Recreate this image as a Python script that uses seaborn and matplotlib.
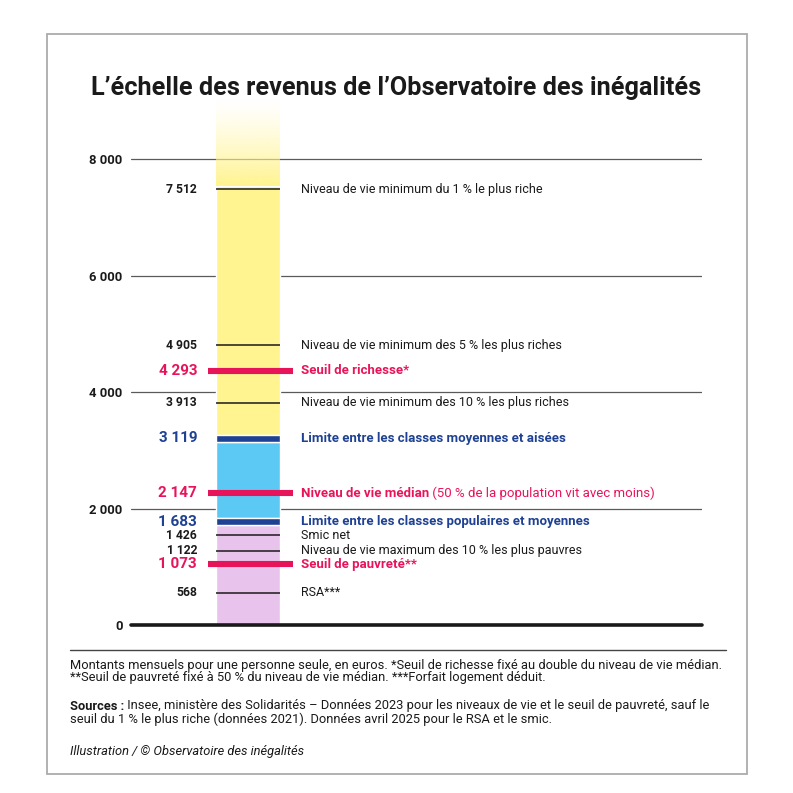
import numpy as np
import matplotlib
matplotlib.use("Agg")
import matplotlib.pyplot as plt
import matplotlib.colors as mcolors
from matplotlib.lines import Line2D
from matplotlib.patches import Rectangle
import seaborn as sns

# Data: monthly amounts (euros) and where each mark sits on the illustration
values = [7512, 4905, 4293, 3913, 3119, 2147, 1683, 1426, 1122, 1073, 568]
positions = [7490, 4810, 4365, 3815, 3205, 2265, 1770, 1545, 1275, 1045, 555]
kinds = ['thin', 'thin', 'red', 'thin', 'blue', 'red', 'blue', 'thin', 'thin', 'red', 'thin']
labels = [
    'Niveau de vie minimum du 1 % le plus riche',
    'Niveau de vie minimum des 5 % les plus riches',
    'Seuil de richesse*',
    'Niveau de vie minimum des 10 % les plus riches',
    'Limite entre les classes moyennes et aisées',
    'Niveau de vie médian',
    'Limite entre les classes populaires et moyennes',
    'Smic net',
    'Niveau de vie maximum des 10 % les plus pauvres',
    'Seuil de pauvreté**',
    'RSA***',
]
median_note = ' (50 % de la population vit avec moins)'
y_ticks = [0, 2000, 4000, 6000, 8000]
bar_top = 9050
fade_start = 7550

title = 'L’échelle des revenus de l’Observatoire des inégalités'
notes = [
    'Montants mensuels pour une personne seule, en euros. *Seuil de richesse fixé au double du niveau de vie médian.',
    '**Seuil de pauvreté fixé à 50 % du niveau de vie médian. ***Forfait logement déduit.',
]
sources_head = 'Sources :'
sources = [
    ' Insee, ministère des Solidarités – Données 2023 pour les niveaux de vie et le seuil de pauvreté, sauf le',
    'seuil du 1 % le plus riche (données 2021). Données avril 2025 pour le RSA et le smic.',
]
credit = 'Illustration / © Observatoire des inégalités'

# Colours
yellow = '#FFF48F'
light_blue = '#5CC9F5'
dark_blue = '#1E4193'
pink = '#E8C4EC'
red = '#E8145A'
ink = '#1a1a1a'

sns.set_theme(style='white')
plt.rcParams['font.family'] = ['Roboto', 'DejaVu Sans']

W = 793
fig = plt.figure(figsize=(7.93, 7.93), dpi=100)
fig.patch.set_facecolor('white')

ymax = 9300
ax = fig.add_axes([131 / W, 1 - 625 / W, 571 / W, ymax * 0.0582 / W])
ax.set_xlim(0, 1)
ax.set_ylim(0, ymax)

bar_left, bar_w = 0.1489, 0.112
band_h = 120

# zones of the bar, split at the two class limits
blue_pos = [p for p, k in zip(positions, kinds) if k == 'blue']
low_lim, high_lim = min(blue_pos), max(blue_pos)
ax.bar(bar_left, low_lim - band_h / 2, bottom=0, width=bar_w, align='edge', color=pink, zorder=2)
ax.bar(bar_left, (high_lim - band_h / 2) - (low_lim + band_h / 2), bottom=low_lim + band_h / 2,
       width=bar_w, align='edge', color=light_blue, zorder=2)
ax.bar(bar_left, fade_start - (high_lim + band_h / 2), bottom=high_lim + band_h / 2,
       width=bar_w, align='edge', color=yellow, zorder=2)

# fade out the top of the bar
grad = np.zeros((256, 1, 4))
grad[..., :3] = mcolors.to_rgb(yellow)
grad[:, 0, 3] = np.linspace(1, 0, 256) ** 1.3
ax.imshow(grad, extent=[bar_left, bar_left + bar_w, fade_start - 5, bar_top], origin='lower',
          aspect='auto', zorder=2, interpolation='bilinear')

for v, p, k, lab in zip(values, positions, kinds, labels):
    num = f'{v:,}'.replace(',', ' ')
    if k == 'thin':
        ax.hlines(p, bar_left, bar_left + bar_w, color=ink, lw=1.1, zorder=3)
        ax.text(0.1156, p, num, ha='right', va='center', fontsize=8.7, fontweight='bold', color=ink)
        ax.text(0.2977, p, lab, ha='left', va='center', fontsize=9, color=ink)
    else:
        col = red if k == 'red' else dark_blue
        if k == 'red':
            ax.hlines(p, 0.1349, 0.2832, color=col, lw=4.4, zorder=4)
        else:
            ax.bar(bar_left, band_h, bottom=p - band_h / 2, width=bar_w, align='edge', color=col, zorder=4)
        ax.text(0.1156, p, num, ha='right', va='center', fontsize=11, fontweight='bold', color=col)
        t = ax.text(0.2977, p, lab, ha='left', va='center', fontsize=9.5, fontweight='bold', color=col)
        if v == 2147:
            ax.annotate(median_note, xy=(1, 0), xycoords=t, ha='left', va='bottom',
                        fontsize=9.5, color=col)

ax.set_yticks(y_ticks)
ax.set_yticklabels([f'{v:,}'.replace(',', ' ') for v in y_ticks], fontweight='bold', fontsize=9.4, color=ink)
ax.set_xticks([])
ax.tick_params(axis='y', length=0, pad=6)
ax.grid(axis='y', color='#5a5a5a', lw=0.9)
ax.set_axisbelow(True)
ax.axhline(0, color=ink, lw=2.6, zorder=5, clip_on=False)
for s in ax.spines.values():
    s.set_visible(False)

# title, footer and frame
fig.text(0.5, 1 - 88 / W, title, ha='center', va='center', fontsize=18.2, fontweight='bold', color=ink)
fig.add_artist(Line2D([70 / W, 726 / W], [1 - 650 / W] * 2, color='#444444', lw=1))
fs = 9.25
for i, line in enumerate(notes):
    fig.text(70 / W, 1 - (665 + 13 * i) / W, line, ha='left', va='center', fontsize=fs, color=ink)
st = fig.text(70 / W, 1 - 706 / W, sources_head, ha='left', va='center', fontsize=fs,
              fontweight='bold', color=ink)
ax.annotate(sources[0], xy=(1, 0), xycoords=st, ha='left', va='bottom', fontsize=fs, color=ink)
fig.text(70 / W, 1 - 719 / W, sources[1], ha='left', va='center', fontsize=fs, color=ink)
fig.text(70 / W, 1 - 751 / W, credit, ha='left', va='center', fontsize=fs, style='italic', color=ink)
fig.add_artist(Rectangle((47 / W, 1 - 774 / W), 700 / W, 740 / W, fill=False,
                         edgecolor='#ababab', lw=1.3, transform=fig.transFigure))

fig.savefig('out.png', dpi=100)
